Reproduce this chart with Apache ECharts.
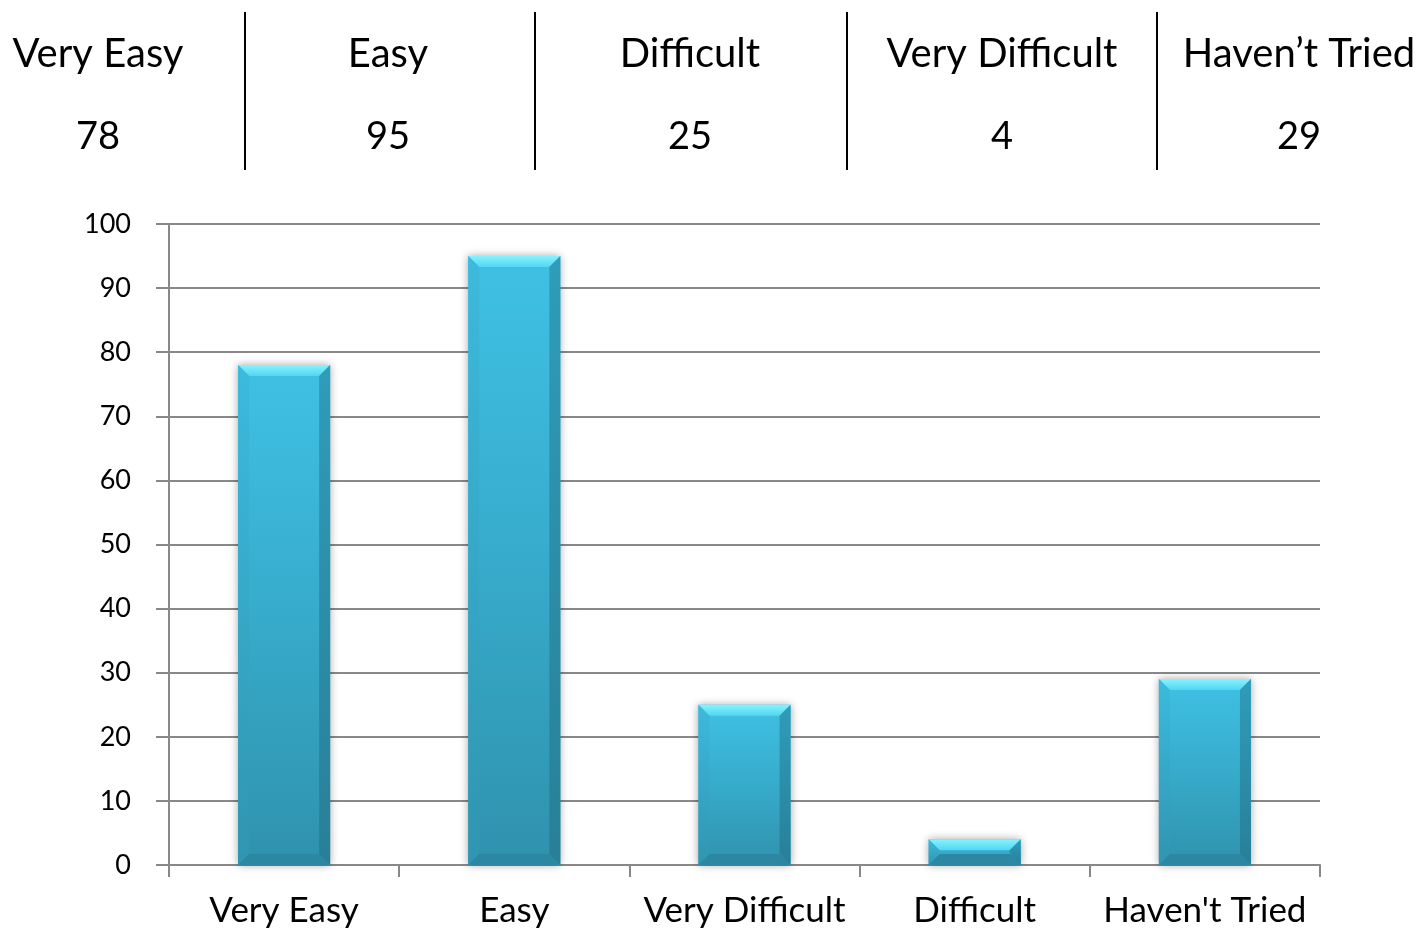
<!DOCTYPE html>
<html>
<head>
<meta charset="utf-8">
<title>Survey responses</title>
<script src="https://cdn.jsdelivr.net/npm/echarts@6/dist/echarts.min.js"></script>
<style>
  html, body { margin: 0; padding: 0; background: #fff; }
  #chart { width: 1419px; height: 933px; }
</style>
</head>
<body>
<div id="chart"></div>
<script>
// Bar chart categories and counts
const categories = ['Very Easy', 'Easy', 'Very Difficult', 'Difficult', "Haven't Tried"];
const counts = [78, 95, 25, 4, 29];

// Summary table above the chart
const tableHeaders = ['Very Easy', 'Easy', 'Difficult', 'Very Difficult', 'Haven\u2019t Tried'];
const tableValues = [78, 95, 25, 4, 29];

// Value axis range
const yMin = 0;
const yMax = 100;
const yStep = 10;

// Table layout (pixels)
const colCenters = [98, 388, 690, 1002, 1299];
const colDividers = [245, 535, 847, 1157];
const headerY = 54;
const valueY = 137;
const dividerTop = 12;
const dividerBottom = 170;

const FONT = 'Lato, "Noto Sans", sans-serif';

const chart = echarts.init(document.getElementById('chart'), null, { renderer: 'canvas' });

// Table texts and divider lines
const graphics = [];
tableHeaders.forEach((h, i) => {
  graphics.push({
    type: 'text', x: colCenters[i], y: headerY,
    style: { text: h, font: '40px ' + FONT, fill: '#000', align: 'center', verticalAlign: 'middle' }
  });
  graphics.push({
    type: 'text', x: colCenters[i], y: valueY,
    style: { text: String(tableValues[i]), font: '38px ' + FONT, fill: '#000', align: 'center', verticalAlign: 'middle' }
  });
});
colDividers.forEach(x => {
  graphics.push({
    type: 'line',
    shape: { x1: x, y1: dividerTop, x2: x, y2: dividerBottom },
    style: { stroke: '#000', lineWidth: 2 }
  });
});

// Bevelled bar drawn from the axis scales
function renderBevelBar(params, api) {
  const idx = api.value(0);
  const v = api.value(1);
  const top = api.coord([idx, v]);
  const base = api.coord([idx, 0]);
  const w = api.size([1, 0])[0] * 0.4;
  const x0 = top[0] - w / 2, x1 = top[0] + w / 2;
  const y0 = top[1], y1 = base[1];
  const b = Math.min(11, (y1 - y0) / 2);
  const lg = (stops, x2, y2) => new echarts.graphic.LinearGradient(0, 0, x2, y2,
    stops.map((c, k) => ({ offset: k / (stops.length - 1), color: c })));
  return {
    type: 'group',
    children: [
      {
        type: 'rect',
        shape: { x: x0, y: y0, width: w, height: y1 - y0 },
        style: {
          fill: lg(['#3fc1e4', '#37abcb', '#2f92ad'], 0, 1),
          shadowBlur: 8, shadowColor: 'rgba(0,0,0,0.35)', shadowOffsetX: 0, shadowOffsetY: 0
        }
      },
      {
        type: 'polygon',
        shape: { points: [[x0, y0], [x1, y0], [x1 - b, y0 + b], [x0 + b, y0 + b]] },
        style: { fill: lg(['#86f3ff', '#52d6f1'], 0, 1) }
      },
      {
        type: 'polygon',
        shape: { points: [[x0, y0], [x0 + b, y0 + b], [x0 + b, y1 - b], [x0, y1]] },
        style: { fill: lg(['#3dbadd', '#3095b0'], 0, 1) }
      },
      {
        type: 'polygon',
        shape: { points: [[x1, y0], [x1, y1], [x1 - b, y1 - b], [x1 - b, y0 + b]] },
        style: { fill: lg(['#2f9cba', '#287f97'], 0, 1) }
      },
      {
        type: 'polygon',
        shape: { points: [[x0, y1], [x0 + b, y1 - b], [x1 - b, y1 - b], [x1, y1]] },
        style: { fill: '#2c88a2' }
      }
    ]
  };
}

const option = {
  backgroundColor: '#fff',
  animation: false,
  graphic: graphics,
  grid: { left: 169, right: 99, top: 224, bottom: 68, containLabel: false },
  xAxis: {
    type: 'category',
    data: categories,
    boundaryGap: true,
    axisLine: { show: true, lineStyle: { color: '#888', width: 2 } },
    axisTick: { show: true, length: 12, alignWithLabel: false, lineStyle: { color: '#888', width: 2 } },
    axisLabel: { color: '#000', fontSize: 35, fontFamily: FONT, margin: 28, interval: 0 },
    splitLine: { show: false }
  },
  yAxis: {
    type: 'value',
    min: yMin, max: yMax, interval: yStep,
    axisLine: { show: true, lineStyle: { color: '#888', width: 2 } },
    axisTick: { show: true, length: 13, lineStyle: { color: '#888', width: 2 } },
    axisLabel: { color: '#000', fontSize: 27, fontFamily: FONT, margin: 38 },
    splitLine: { show: true, lineStyle: { color: '#888', width: 2 } }
  },
  series: [{
    type: 'custom',
    renderItem: renderBevelBar,
    encode: { x: 0, y: 1 },
    data: counts.map((v, i) => [i, v]),
    z: 5
  }]
};

chart.setOption(option);
</script>
</body>
</html>
